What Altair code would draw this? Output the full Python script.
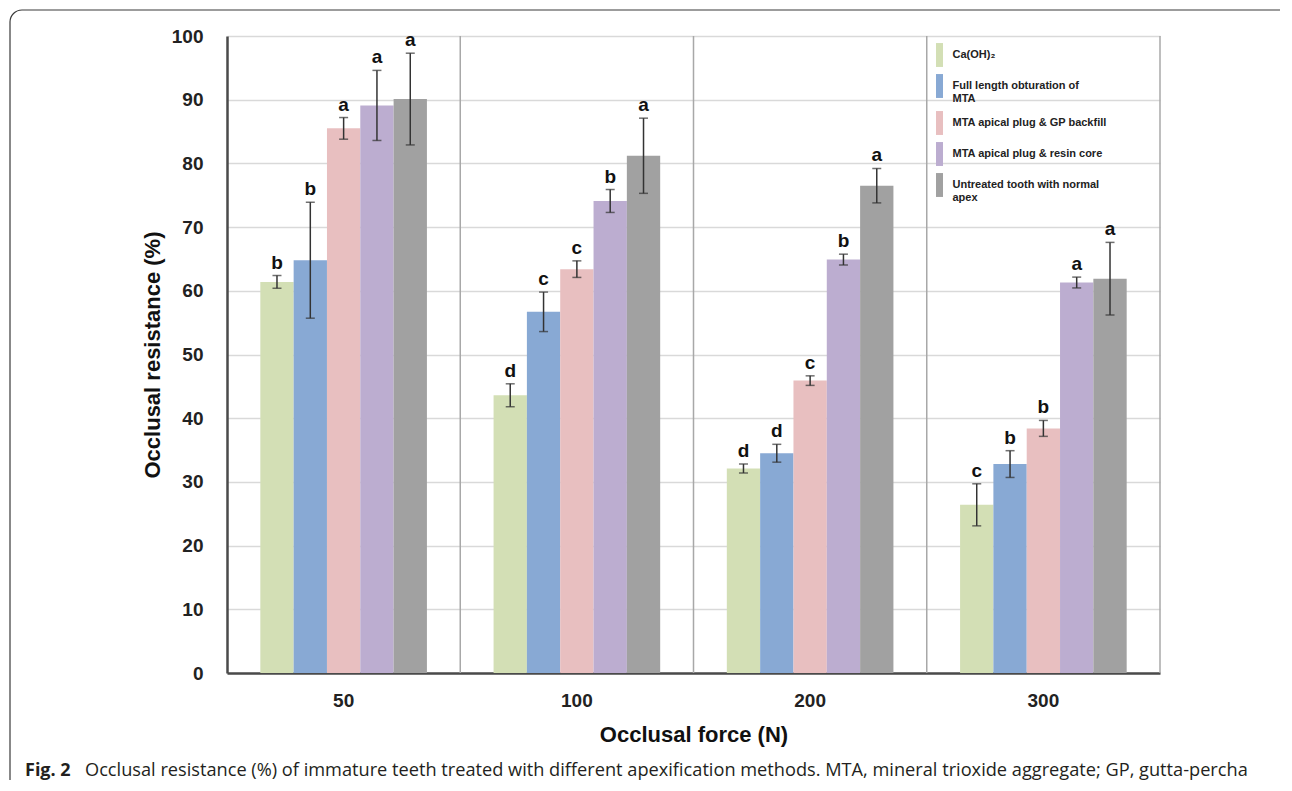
import altair as alt
import pandas as pd

# ---- data ----
forces = ["50", "100", "200", "300"]
series = [
    "Ca(OH)₂",
    "Full length obturation of|MTA",
    "MTA apical plug & GP backfill",
    "MTA apical plug & resin core",
    "Untreated tooth with normal|apex",
]
colors = ["#d3dfb5", "#88a9d4", "#e8bfc0", "#bcadd0", "#a1a1a1"]

ca_vals = [61.4, 43.6, 32.1, 26.4]
full_vals = [64.8, 56.7, 34.5, 32.8]
gp_vals = [85.5, 63.4, 45.9, 38.4]
resin_vals = [89.1, 74.1, 64.9, 61.3]
untreated_vals = [90.1, 81.2, 76.5, 61.9]

ca_err = [1.0, 1.8, 0.7, 3.3]
full_err = [9.1, 3.1, 1.4, 2.1]
gp_err = [1.7, 1.3, 0.75, 1.25]
resin_err = [5.5, 1.8, 0.85, 0.85]
untreated_err = [7.2, 5.9, 2.7, 5.7]

ca_let = ["b", "d", "d", "c"]
full_let = ["b", "c", "d", "b"]
gp_let = ["a", "c", "c", "b"]
resin_let = ["a", "b", "b", "a"]
untreated_let = ["a", "a", "a", "a"]

y_ticks = [0, 10, 20, 30, 40, 50, 60, 70, 80, 90, 100]
caption_bold = "Fig. 2"
caption_text = ("Occlusal resistance (%) of immature teeth treated with different apexification "
                "methods. MTA, mineral trioxide aggregate; GP, gutta-percha")

all_vals = [ca_vals, full_vals, gp_vals, resin_vals, untreated_vals]
all_err = [ca_err, full_err, gp_err, resin_err, untreated_err]
all_let = [ca_let, full_let, gp_let, resin_let, untreated_let]

rows = []
for s, vals, errs, lets in zip(series, all_vals, all_err, all_let):
    for f, v, e, l in zip(forces, vals, errs, lets):
        rows.append({"Force": f, "Group": s, "Value": v, "Low": v - e, "High": v + e, "Letter": l})
df = pd.DataFrame(rows)

FONT = "Liberation Sans"

x_axis = alt.Axis(title="Occlusal force (N)", labelAngle=0, grid=False, labelPadding=18,
                  titlePadding=14, labelFontSize=19)
y_axis = alt.Axis(title="Occlusal resistance (%)", values=y_ticks, grid=True, labelPadding=24,
                  titlePadding=7)
x_scale = alt.Scale(domain=forces, paddingInner=0, paddingOuter=0)
y_scale = alt.Scale(domain=[0, 100])
xo = alt.XOffset("Group:N", sort=series,
                 scale=alt.Scale(domain=series, paddingInner=0, paddingOuter=1))


def X(**kw):
    return alt.X("Force:N", sort=forces, scale=x_scale, axis=x_axis, **kw)


def Y(field):
    return alt.Y(field, scale=y_scale, axis=y_axis)


base = alt.Chart(df)

bars = base.mark_bar().encode(
    x=X(), xOffset=xo, y=Y("Value:Q"),
    color=alt.Color("Group:N", sort=series,
                    scale=alt.Scale(domain=series, range=colors),
                    legend=alt.Legend(title=None, orient="none", legendX=699.5, legendY=6,
                                      symbolType="M-0.27,-0.92H0.27V0.92H-0.27Z",
                                      symbolSize=676, symbolStrokeWidth=0, symbolOpacity=1,
                                      labelFont=FONT, labelFontSize=11, labelFontWeight="bold",
                                      labelColor="#222222", labelLimit=300, rowPadding=6,
                                      labelOffset=0, padding=0,
                                      labelExpr="split(datum.label, '|')")),
)

rules = base.mark_rule(color="#333333", strokeWidth=1.5).encode(
    x=X(), xOffset=xo, y=Y("Low:Q"), y2="High:Q")
cap_hi = base.mark_tick(color="#333333", thickness=1.5, size=9).encode(
    x=X(), xOffset=xo, y=Y("High:Q"))
cap_lo = base.mark_tick(color="#333333", thickness=1.5, size=9).encode(
    x=X(), xOffset=xo, y=Y("Low:Q"))
letters = base.mark_text(baseline="bottom", dy=-3, font=FONT, fontSize=19,
                         fontWeight="bold", color="#111111").encode(
    x=X(), xOffset=xo, y=Y("High:Q"), text="Letter:N")

div_df = pd.DataFrame({"Force": forces[1:]})
dividers = alt.Chart(div_df).mark_rule(color="#a8a8a8", strokeWidth=1.5).encode(
    x=X(bandPosition=0))
right_df = pd.DataFrame({"Force": forces[-1:]})
right_border = alt.Chart(right_df).mark_rule(color="#a8a8a8", strokeWidth=1.5).encode(
    x=X(bandPosition=1))

one = pd.DataFrame({"t": [caption_bold], "u": [caption_text]})
frame = alt.Chart(one).mark_rect(fillOpacity=0, stroke="#3a3a3a", strokeWidth=1.2,
                                 cornerRadius=12).encode(
    x=alt.value(-217), x2=alt.value(1073), y=alt.value(-26), y2=alt.value(764))
cap1 = alt.Chart(one).mark_text(align="left", baseline="alphabetic", font="Open Sans",
                                fontSize=18, fontWeight="bold", color="#231f20").encode(
    x=alt.value(-202), y=alt.value(740), text="t:N")
cap2 = alt.Chart(one).mark_text(align="left", baseline="alphabetic", font="Open Sans",
                                fontSize=18.2, color="#231f20").encode(
    x=alt.value(-142), y=alt.value(740), text="u:N")

chart = alt.layer(frame, dividers, right_border, bars, rules, cap_hi, cap_lo, letters,
                  cap1, cap2).properties(
    width=933, height=637,
    autosize=alt.AutoSizeParams(type="none"),
    padding={"left": 219, "top": 28, "right": 120, "bottom": 107},
).configure_view(stroke=None).configure_axis(
    gridColor="#d9d9d9", gridWidth=1.5, domainColor="#4a4a4a", domainWidth=2.5,
    ticks=False, tickSize=0, labelFont=FONT, labelFontWeight="bold", labelFontSize=19,
    labelColor="#222222", titleFont=FONT, titleFontSize=22, titleFontWeight="bold",
    titleColor="#111111",
)

chart.save("out.html", embed_options={"renderer": "svg", "actions": False})
